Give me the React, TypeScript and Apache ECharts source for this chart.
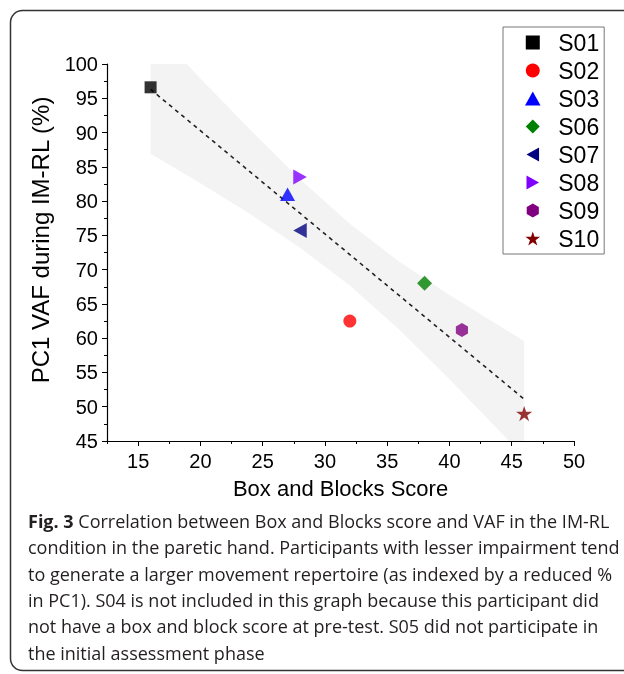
import React, { useEffect, useRef } from "react";
import * as echarts from "echarts";

const subjects = ["S01", "S02", "S03", "S06", "S07", "S08", "S09", "S10"];
const boxBlocks = [16, 32, 27, 38, 28, 28, 41, 46];
const vaf = [96.6, 62.5, 81.0, 68.0, 75.7, 83.5, 61.2, 49.0];
const colors = ["#000000", "#ff0000", "#0000ff", "#008000", "#000080", "#8000ff", "#800080", "#800000"];

const fitX = [16, 46];
const fitY = [96.3, 51.1];

const bandX = [16, 20, 24, 28, 32, 36, 40, 44, 46];
const bandUpper = [105.6, 97.9, 90.4, 83.2, 76.7, 71.1, 66.3, 61.8, 59.6];
const bandLower = [86.9, 82.6, 78.1, 73.2, 67.7, 61.2, 54.0, 46.5, 42.6];

const xMajorTicks = [15, 20, 25, 30, 35, 40, 45, 50];
const xMinorTicks = [12.5, 17.5, 22.5, 27.5, 32.5, 37.5, 42.5, 47.5];

const captionLines = [
  "{b|Fig. 3} Correlation between Box and Blocks score and VAF in the IM-RL",
  "condition in the paretic hand. Participants with lesser impairment tend",
  "to generate a larger movement repertoire (as indexed by a reduced %",
  "in PC1). S04 is not included in this graph because this participant did",
  "not have a box and block score at pre-test. S05 did not participate in",
  "the initial assessment phase",
];

const SQUARE = "path://M0,0L1,0L1,1L0,1Z";
const TRI = "path://M0,-1L1,0.8L-1,0.8Z";
const LTRI = "path://M-1,0L0.8,-1L0.8,1Z";
const RTRI = "path://M1,0L-0.8,-1L-0.8,1Z";
const HEX = "path://M0,-1L0.866,-0.5L0.866,0.5L0,1L-0.866,0.5L-0.866,-0.5Z";
const STAR =
  "path://M0,-1L0.2245,-0.309L0.951,-0.309L0.363,0.118L0.588,0.809L0,0.382L-0.588,0.809L-0.363,0.118L-0.951,-0.309L-0.2245,-0.309Z";
const DIAMOND = "path://M0,-1L1,0L0,1L-1,0Z";

const symbols: any[] = [SQUARE, "circle", TRI, DIAMOND, LTRI, RTRI, HEX, STAR];
const sizes = [12, 13, 15, 15, 15, 15, 14, 16];

const FONT = "Liberation Sans, Arial, sans-serif";
const CAPFONT = "Open Sans, Noto Sans, sans-serif";

export default function App() {
  const ref = useRef<HTMLDivElement>(null);
  useEffect(() => {
    if (!ref.current) return;
    const chart = echarts.init(ref.current, undefined, { renderer: "svg" });

    const scatterSeries = subjects.map((name, i) => ({
      name,
      type: "scatter",
      data: [[boxBlocks[i], vaf[i]]],
      symbol: symbols[i],
      symbolSize: sizes[i],
      symbolKeepAspect: true,
      itemStyle: { color: colors[i], opacity: 0.8 },
      z: 5,
    }));

    const option: any = {
      animation: false,
      textStyle: { fontFamily: FONT },
      grid: { left: 107, top: 64, right: 50, bottom: 233 },
      xAxis: [
        {
          type: "value",
          min: 12.5,
          max: 50,
          axisLine: { show: true, onZero: false, lineStyle: { color: "#000", width: 1.2 } },
          axisTick: { show: true, length: 5, customValues: xMajorTicks, lineStyle: { color: "#000" } },
          axisLabel: { customValues: xMajorTicks, color: "#000", fontSize: 20, margin: 10, fontFamily: FONT },
          splitLine: { show: false },
          name: "Box and Blocks Score",
          nameLocation: "middle",
          nameGap: 36,
          nameTextStyle: { fontSize: 22, color: "#000", fontFamily: FONT },
        },
        {
          type: "value",
          min: 12.5,
          max: 50,
          position: "bottom",
          axisLine: { show: false, onZero: false },
          axisTick: { show: true, length: 3, customValues: xMinorTicks, lineStyle: { color: "#000" } },
          axisLabel: { show: false, customValues: xMinorTicks },
          splitLine: { show: false },
        },
      ],
      yAxis: {
        type: "value",
        min: 45,
        max: 100,
        interval: 5,
        axisLine: { show: true, onZero: false, lineStyle: { color: "#000", width: 1.2 } },
        axisTick: { show: true, length: 5, lineStyle: { color: "#000" } },
        minorTick: { show: true, splitNumber: 2, length: 3, lineStyle: { color: "#000" } },
        axisLabel: { color: "#000", fontSize: 20, margin: 9, fontFamily: FONT },
        splitLine: { show: false },
      },
      legend: {
        orient: "vertical",
        left: 503,
        top: 27,
        data: subjects,
        itemWidth: 41,
        itemHeight: 14,
        itemGap: 5,
        padding: [4, 5, 4, 22],
        borderColor: "#777",
        borderWidth: 1,
        itemStyle: { opacity: 1 },
        textStyle: { fontSize: 23, color: "#000", lineHeight: 22, fontFamily: FONT },
      },
      series: [
        {
          type: "custom",
          name: "band",
          clip: true,
          silent: true,
          z: 1,
          data: [[bandX[0], bandUpper[0]]],
          renderItem: (params: any, api: any) => {
            const pts: number[][] = [];
            for (let i = 0; i < bandX.length; i++) pts.push(api.coord([bandX[i], bandUpper[i]]));
            for (let i = bandX.length - 1; i >= 0; i--) pts.push(api.coord([bandX[i], bandLower[i]]));
            return { type: "polygon", shape: { points: pts }, style: { fill: "#f3f3f3" } };
          },
        },
        {
          type: "line",
          name: "fit",
          data: fitX.map((x, i) => [x, fitY[i]]),
          symbol: "none",
          lineStyle: { color: "#222", width: 1.6, type: [4, 4] },
          z: 3,
          silent: true,
        },
        ...scatterSeries,
      ],
      graphic: [
        {
          type: "rect",
          shape: { x: 10.5, y: 10.5, width: 700, height: 660, r: 12 },
          style: { fill: "none", stroke: "#333", lineWidth: 1.5 },
          silent: true,
        },
        {
          type: "text",
          x: 40,
          y: 240,
          rotation: Math.PI / 2,
          style: {
            text: "PC1 VAF during IM-RL (%)",
            fontSize: 24,
            fontFamily: FONT,
            fill: "#000",
            align: "center",
            verticalAlign: "middle",
          },
        },
        ...captionLines.map((t, i) => ({
          type: "text",
          x: 28,
          y: 521 + i * 26.3,
          style: {
            text: t,
            fontSize: 18,
            fontFamily: CAPFONT,
            fill: "#231f20",
            align: "left",
            verticalAlign: "middle",
            rich: { b: { fontWeight: "bold", fontSize: 18, fontFamily: CAPFONT, fill: "#231f20" } },
          },
        })),
      ],
    };
    chart.setOption(option);
    return () => chart.dispose();
  }, []);
  return <div ref={ref} style={{ position: "fixed", left: 0, top: 0, width: 624, height: 674 }} />;
}
